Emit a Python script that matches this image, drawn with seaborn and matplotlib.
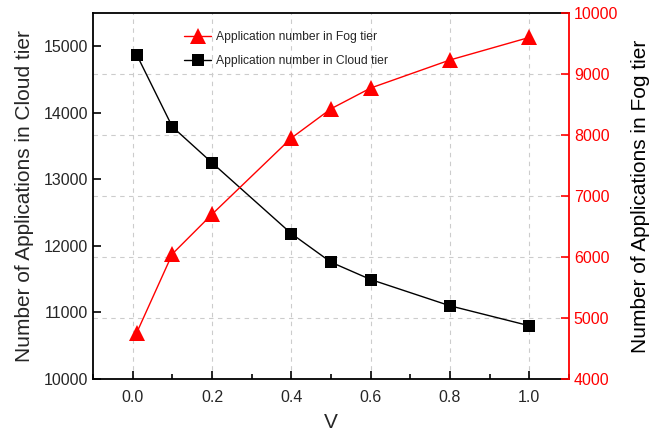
import matplotlib
matplotlib.use("Agg")
import matplotlib.pyplot as plt
from matplotlib.ticker import MultipleLocator
from matplotlib.transforms import blended_transform_factory
import seaborn as sns
import pandas as pd

v_values = [0.01, 0.1, 0.2, 0.4, 0.5, 0.6, 0.8, 1.0]
cloud_apps = [14875, 13790, 13250, 12185, 11755, 11495, 11100, 10800]
fog_apps = [4755, 6050, 6700, 7950, 8430, 8770, 9230, 9600]
x_ticks = [0.0, 0.2, 0.4, 0.6, 0.8, 1.0]
x_ticklabels = ["0.0", "0.2", "0.4", "0.6", "0.8", "1.0"]
fog_ticks = [4000, 5000, 6000, 7000, 8000, 9000, 10000]

df = pd.DataFrame({"V": v_values, "cloud": cloud_apps, "fog": fog_apps})

sns.set_theme(style="ticks")
plt.rcParams['font.family'] = ['Liberation Sans', 'DejaVu Sans']

fig = plt.figure(figsize=(6.62, 4.32), dpi=100)
ax = fig.add_axes([93/662, 1-379/432, (569-93)/662, (379-13)/432])
ax2 = ax.twinx()

ax.set_xlim(-0.1, 1.1)
ax.set_ylim(10000, 15500)
ax2.set_ylim(4000, 10000)

# dashed grid drawn in the lower axes: vertical at x ticks, horizontal at right-axis ticks
grid_kw = dict(linestyle=(0, (4, 4)), color="#cccccc", linewidth=0.8, zorder=0)
for t in x_ticks:
    ax.axvline(t, **grid_kw)
tr = blended_transform_factory(ax.transAxes, ax2.transData)
for t in fog_ticks[1:-1]:
    ax.plot([0, 1], [t, t], transform=tr, **grid_kw)

sns.lineplot(data=df, x="V", y="cloud", ax=ax, color="black", marker="s",
             markersize=9, linewidth=1, markeredgewidth=0, zorder=3,
             label="Application number in Cloud tier", legend=False)
sns.lineplot(data=df, x="V", y="fog", ax=ax2, color="red", marker="^",
             markersize=11, linewidth=1, markeredgewidth=0, zorder=3,
             label="Application number in Fog tier", legend=False)

ax.set_xticks(x_ticks)
ax.set_xticklabels(x_ticklabels)
ax.xaxis.set_minor_locator(MultipleLocator(0.1))
ax.yaxis.set_major_locator(MultipleLocator(1000))
ax2.set_yticks(fog_ticks)
ax.grid(False)
ax2.grid(False)

ax.tick_params(axis="x", which="major", direction="in", length=6, width=1.2, labelsize=11.5, color="black", pad=8)
ax.tick_params(axis="x", which="minor", direction="in", length=3.5, width=1.2, color="black")
ax.tick_params(axis="y", which="major", direction="in", length=6, width=1.2, labelsize=11.5, color="black")
ax2.tick_params(axis="y", which="major", direction="in", length=6, width=1.2, labelsize=11.5,
                color="red", labelcolor="red")

for s in ["left", "bottom", "top"]:
    ax.spines[s].set_color("black")
    ax.spines[s].set_linewidth(1.3)
    ax2.spines[s].set_visible(False)
ax.spines["right"].set_visible(False)
ax2.spines["right"].set_color("red")
ax2.spines["right"].set_linewidth(1.3)

ax.set_xlabel("V", fontsize=15, labelpad=6)
ax.set_ylabel("Number of Applications in Cloud tier", fontsize=15, labelpad=7)
ax2.set_ylabel("Number of Applications in Fog tier", fontsize=15, labelpad=9, color="black")

h1, l1 = ax.get_legend_handles_labels()
h2, l2 = ax2.get_legend_handles_labels()
ax2.legend(h2 + h1, l2 + l1, loc="upper left", bbox_to_anchor=(0.169, 0.98),
           frameon=False, fontsize=8.7, handlelength=2.2, handletextpad=0.4,
           labelspacing=1.0, markerscale=1.0)

fig.savefig("out.png", dpi=100)
